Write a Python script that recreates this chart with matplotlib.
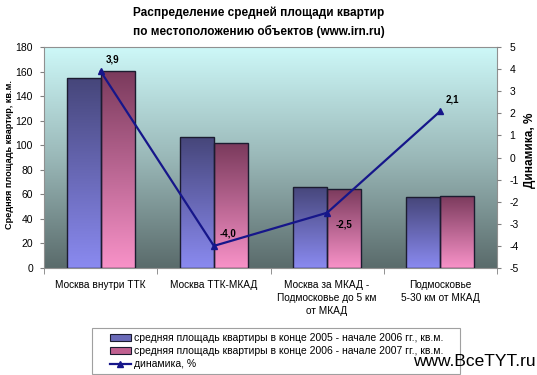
import numpy as np
import matplotlib
matplotlib.use("Agg")
import matplotlib.pyplot as plt
from matplotlib.patches import Rectangle
from matplotlib.lines import Line2D
from matplotlib.colors import LinearSegmentedColormap

plt.rcParams['font.family'] = ['Liberation Sans', 'DejaVu Sans']
plt.rcParams['axes.unicode_minus'] = False

categories = ["Москва внутри ТТК", "Москва ТТК-МКАД",
              "Москва за МКАД -\nПодмосковье до 5 км\nот МКАД",
              "Подмосковье\n5-30 км от МКАД"]
area_2005 = [154.5, 106.4, 66.2, 57.6]
area_2006 = [160.5, 101.8, 64.7, 58.8]
dynamics = [3.9, -4.0, -2.5, 2.1]
dyn_labels = ["3,9", "-4,0", "-2,5", "2,1"]
left_ticks = [0, 20, 40, 60, 80, 100, 120, 140, 160, 180]
right_ticks = [-5, -4, -3, -2, -1, 0, 1, 2, 3, 4, 5]
legend_labels = ["средняя площадь квартиры в конце 2005 - начале 2006 гг., кв.м.",
                 "средняя площадь квартиры в конце 2006 - начале 2007 гг., кв.м.",
                 "динамика, %"]

W, H = 537, 375
fig = plt.figure(figsize=(W / 100, H / 100), dpi=100)
L, R, T, B = 44, 497, 47, 268
ax = fig.add_axes([L / W, 1 - B / H, (R - L) / W, (B - T) / H])

x = np.arange(len(categories))
ax.set_xlim(-0.5, len(categories) - 0.5)
ax.set_ylim(0, 180)

# background gradient
bg = LinearSegmentedColormap.from_list("bg", ["#5a6b6b", "#9ab8b8", "#cdf8f8"])
grad = np.linspace(0, 1, 256).reshape(-1, 1)
ax.imshow(grad, cmap=bg, origin="lower", aspect="auto",
          extent=(-0.5, len(categories) - 0.5, 0, 180), zorder=0)

bw = 0.3
blue_cm = LinearSegmentedColormap.from_list("b", ["#8a8af0", "#46467a"])
pink_cm = LinearSegmentedColormap.from_list("p", ["#f892c8", "#7a3a5c"])

def grad_bars(xs, vals, cmap):
    bars = ax.bar(xs, vals, width=bw, facecolor="none", edgecolor="#1c1c30",
                  linewidth=1.0, zorder=3)
    for rect, v in zip(bars, vals):
        x0 = rect.get_x()
        im = ax.imshow(grad, cmap=cmap, origin="lower", aspect="auto",
                       extent=(x0, x0 + bw, 0, v), zorder=2)
        im.set_clip_path(rect)
    return bars

grad_bars(x - bw / 2, area_2005, blue_cm)
grad_bars(x + bw / 2, area_2006, pink_cm)

ax.set_xlim(-0.5, len(categories) - 0.5)
ax.set_ylim(0, 180)
ax.set_yticks(left_ticks)
ax.set_xticks(np.arange(len(categories) + 1) - 0.5, minor=True)
ax.set_xticks(x)
ax.set_xticklabels(categories, fontsize=7.3, linespacing=1.35)
ax.tick_params(axis="x", which="major", length=0, pad=9)
ax.tick_params(axis="x", which="minor", length=4, color="#808080")
ax.tick_params(axis="y", labelsize=7.5, length=3, color="#808080", pad=5)
for s in ax.spines.values():
    s.set_color("#909090")
    s.set_linewidth(0.8)

ax2 = ax.twinx()
ax2.set_ylim(-5, 5)
ax2.set_yticks(right_ticks)
ax2.tick_params(axis="y", labelsize=7.5, length=3, color="#808080", pad=6)
for s in ax2.spines.values():
    s.set_visible(False)
ax2.plot(x, dynamics, color="#16168a", lw=1.6, marker="^", markersize=4.5,
         zorder=5)
offsets = [(4, 5), (4, 5), (6, -12), (4, 5)]
for xi, d, lab, off in zip(x, dynamics, dyn_labels, offsets):
    ax2.annotate(lab, (xi, d), xytext=off, textcoords="offset points",
                 fontsize=7, fontweight="bold", ha="left", va="bottom")

fig.text(10 / W, 1 - 154 / H, "Средняя площадь квартир, кв.м.", rotation=90,
         ha="center", va="center", fontsize=6.6, fontweight="bold")
fig.text(530 / W, 1 - 150 / H, "Динамика, %", rotation=90,
         ha="center", va="center", fontsize=8.5, fontweight="bold")

fig.text(259 / W, 1 - 13 / H, "Распределение средней площади квартир",
         ha="center", va="center", fontsize=8.5, fontweight="bold")
fig.text(259 / W, 1 - 31 / H, "по местоположению объектов (www.irn.ru)",
         ha="center", va="center", fontsize=8.5, fontweight="bold")

# legend frame
frame = Rectangle((92 / W, 1 / H), (460 - 92) / W, 46 / H, transform=fig.transFigure,
                  facecolor="white", edgecolor="#a0a0a0", lw=0.8, zorder=1)
fig.patches.append(frame)

handles = [Rectangle((0, 0), 1, 1, facecolor="#6a6ab8", edgecolor="#1c1c30", lw=0.8),
           Rectangle((0, 0), 1, 1, facecolor="#c06090", edgecolor="#1c1c30", lw=0.8),
           Line2D([], [], color="#16168a", lw=1.6, marker="^", markersize=4)]
leg = fig.legend(handles, legend_labels, loc="center left",
                 bbox_to_anchor=(110 / W, 24 / H),
                 fontsize=7.5, frameon=False, borderaxespad=0, handlelength=2.0,
                 handleheight=0.6, handletextpad=0.3, labelspacing=0.3,
                 borderpad=0.0)

fig.text(1 - 1 / W, 1 - 362 / H, "www.BceTYT.ru", ha="right", va="center",
         fontsize=12.5, zorder=10)

fig.savefig("out.png", dpi=100)
